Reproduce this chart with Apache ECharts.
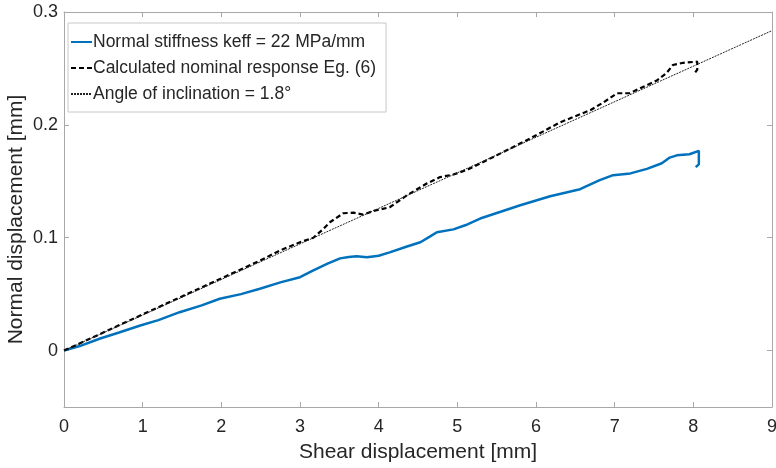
<!DOCTYPE html>
<html>
<head>
<meta charset="utf-8">
<script src="https://cdn.jsdelivr.net/npm/echarts@6/dist/echarts.min.js"></script>
<style>
  html, body { margin: 0; padding: 0; background: #fff; }
  #chart { width: 776px; height: 468px; }
</style>
</head>
<body>
<div id="chart"></div>
<script>
// measured curve: normal stiffness keff = 22 MPa/mm
const shearMeasured = [0, 0.2, 0.46, 0.7, 0.97, 1.2, 1.47, 1.75, 1.98, 2.25, 2.49, 2.75, 3.0, 3.17, 3.35, 3.51, 3.62, 3.72, 3.85, 4.0, 4.14, 4.35, 4.53, 4.65, 4.74, 4.95, 5.1, 5.29, 5.55, 5.8, 6.18, 6.56, 6.81, 6.98, 7.2, 7.41, 7.6, 7.7, 7.79, 7.95, 8.07, 8.07, 8.03]
const normalMeasured = [0, 0.004, 0.0107, 0.016, 0.0222, 0.027, 0.034, 0.04, 0.0459, 0.05, 0.0548, 0.0604, 0.065, 0.071, 0.077, 0.0817, 0.083, 0.0835, 0.0826, 0.084, 0.087, 0.092, 0.096, 0.101, 0.1048, 0.1074, 0.111, 0.117, 0.123, 0.1288, 0.1368, 0.143, 0.151, 0.1554, 0.157, 0.161, 0.166, 0.171, 0.173, 0.174, 0.177, 0.165, 0.1625]

// calculated nominal response Eq. (6)
const shearCalc = [0, 0.5, 1.0, 1.5, 2.0, 2.5, 2.75, 3.0, 3.17, 3.3, 3.38, 3.55, 3.68, 3.8, 3.95, 4.14, 4.36, 4.61, 4.78, 4.95, 5.12, 5.5, 5.9, 6.3, 6.69, 6.86, 7.03, 7.19, 7.36, 7.53, 7.66, 7.74, 7.87, 8.05, 8.05, 8.02]
const normalCalc = [0, 0.016, 0.032, 0.048, 0.064, 0.08, 0.0888, 0.096, 0.1, 0.108, 0.1137, 0.1217, 0.1222, 0.1205, 0.124, 0.127, 0.1376, 0.148, 0.1537, 0.156, 0.16, 0.173, 0.187, 0.202, 0.213, 0.22, 0.228, 0.228, 0.2336, 0.239, 0.246, 0.253, 0.255, 0.256, 0.249, 0.246]

// angle of inclination 1.8 deg
const shearAngle = [0, 9]
const normalAngle = [0, 0.2835]

const seriesNames = ['Normal stiffness keff = 22 MPa/mm', 'Calculated nominal response Eg. (6)', 'Angle of inclination = 1.8°']
const yTicks = [0, 0.1, 0.2, 0.3]

const pairs = (xs, ys) => xs.map((x, i) => [x, ys[i]])

const axisGray = '#a8a8a8'
const textGray = '#262626'
const font = 'Liberation Sans, Arial, sans-serif'

const chart = echarts.init(document.getElementById('chart'))
chart.setOption({
  animation: false,
  grid: { left: 64, right: 4, top: 12, bottom: 61, outerBoundsMode: 'none', containLabel: false },
  legend: {
    orient: 'vertical',
    left: 68,
    top: 23,
    padding: [10, 10, 9, 2],
    itemGap: 8,
    itemWidth: 21,
    itemHeight: 14,
    borderColor: '#c8c8c8',
    borderWidth: 1,
    backgroundColor: '#fff',
    itemStyle: { opacity: 0 },
    textStyle: { fontFamily: font, fontSize: 17.5, color: textGray, padding: [0, 0, 0, -4] },
    data: seriesNames
  },
  xAxis: [{
    type: 'value',
    min: 0, max: 9, interval: 1,
    name: 'Shear displacement [mm]',
    nameLocation: 'middle',
    nameGap: 35,
    nameMoveOverlap: false,
    nameTextStyle: { fontFamily: font, fontSize: 21, color: textGray },
    axisLine: { onZero: false, lineStyle: { color: axisGray } },
    axisTick: { inside: true, length: 5, lineStyle: { color: axisGray } },
    axisLabel: { fontFamily: font, fontSize: 18, color: textGray, margin: 11 },
    splitLine: { show: false }
  }, {
    type: 'value',
    position: 'top',
    min: 0, max: 9, interval: 1,
    axisLine: { show: true, onZero: false, lineStyle: { color: axisGray } },
    axisTick: { inside: true, length: 5, lineStyle: { color: axisGray } },
    axisLabel: { show: false },
    splitLine: { show: false }
  }],
  yAxis: [{
    type: 'value',
    min: -0.05, max: 0.3,
    name: 'Normal displacement [mm]',
    nameLocation: 'middle',
    nameGap: 37,
    nameMoveOverlap: false,
    nameTextStyle: { fontFamily: font, fontSize: 21, color: textGray, padding: [0, 20, 0, 0] },
    axisLine: { show: true, onZero: false, lineStyle: { color: axisGray } },
    axisTick: { show: true, inside: true, length: 5, customValues: yTicks, lineStyle: { color: axisGray } },
    axisLabel: { fontFamily: font, fontSize: 18, color: textGray, margin: 6, customValues: yTicks },
    splitLine: { show: false }
  }, {
    type: 'value',
    position: 'right',
    min: -0.05, max: 0.3,
    axisLine: { show: true, onZero: false, lineStyle: { color: axisGray } },
    axisTick: { show: true, inside: true, length: 5, customValues: yTicks, lineStyle: { color: axisGray } },
    axisLabel: { show: false },
    splitLine: { show: false }
  }],
  series: [{
    name: seriesNames[0],
    type: 'line',
    data: pairs(shearMeasured, normalMeasured),
    symbol: 'none',
    lineStyle: { color: '#0072BD', width: 2.5 },
    itemStyle: { color: '#0072BD' },
    z: 3
  }, {
    name: seriesNames[1],
    type: 'line',
    data: pairs(shearCalc, normalCalc),
    symbol: 'none',
    lineStyle: { color: '#000', width: 2.2, type: [5, 3] },
    itemStyle: { color: '#000' },
    z: 4
  }, {
    name: seriesNames[2],
    type: 'line',
    data: pairs(shearAngle, normalAngle),
    symbol: 'none',
    lineStyle: { color: '#222', width: 1, type: [2, 1] },
    itemStyle: { color: '#222' },
    z: 5
  }]
})
</script>
</body>
</html>
